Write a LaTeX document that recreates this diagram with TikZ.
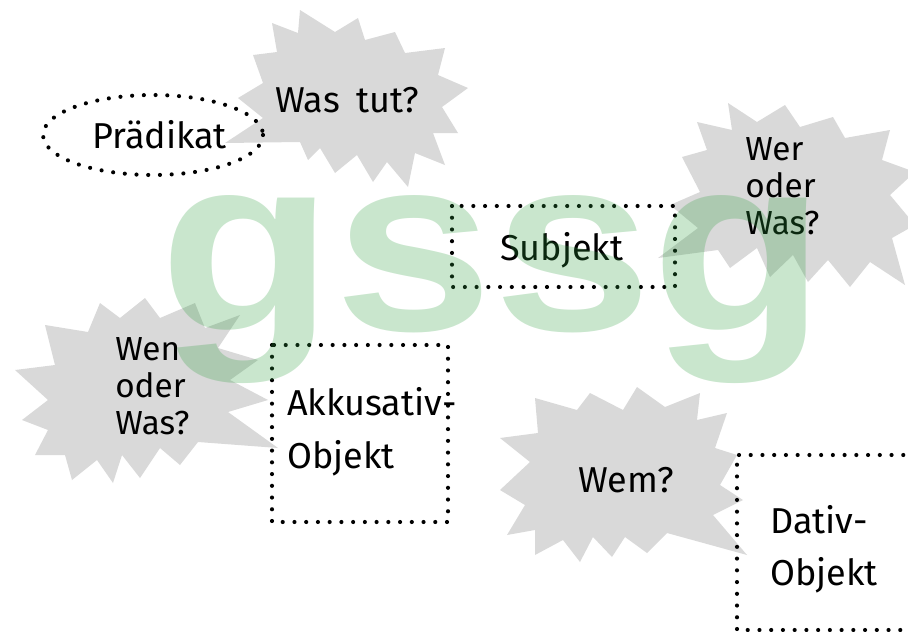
\documentclass[tikz,border=0pt]{standalone}
\usepackage{fontspec}
\usepackage{graphicx}
\setmainfont{Fira Sans}
\newfontfamily\wmfont{Liberation Sans Bold}
\definecolor{burstgray}{HTML}{D9D9D9}
\definecolor{wmgreen}{HTML}{2E9E3E}
\tikzset{
  burstshape/.style={fill=burstgray, draw=none},
  dotline/.style={draw=black, line width=3.1pt, line cap=round, dash pattern=on 0pt off 8.8pt},
  bubtext/.style={inner sep=0pt, anchor=base west, font=\fontsize{27}{30}\selectfont},
  multitext/.style={inner sep=0pt, align=left, anchor=north west, font=\fontsize{25}{28}\selectfont},
  boxtext/.style={inner sep=0pt, anchor=base west, font=\fontsize{27}{30}\selectfont},
  watermark/.style={inner sep=0pt, anchor=base, text=wmgreen, text opacity=0.26, font=\wmfont\fontsize{188}{188}\selectfont},
}
\begin{document}
\begin{tikzpicture}[x=0.75pt,y=-0.75pt]
\useasboundingbox (0,0) rectangle (908,632);

% starburst: Was tut?
\path[burstshape] (225,143) -- (263,118) -- (238,98) -- (263,83) -- (253,55) -- (277,52) -- (272,23) -- (298,33) -- (300,10) -- (335,32) -- (358,18) -- (365,40) -- (395,32) -- (405,53) -- (445,48) -- (438,75) -- (468,88) -- (442,107) -- (458,133) -- (433,133) -- (445,165) -- (415,153) -- (408,187) -- (387,162) -- (373,182) -- (357,155) -- (335,173) -- (320,148) -- (308,160) -- (300,142) -- cycle;

% starburst: Wer oder Was?
\path[burstshape] (697,122) -- (732,130) -- (728,103) -- (757,122) -- (785,105) -- (800,127) -- (833,117) -- (845,138) -- (890,130) -- (882,160) -- (915,172) -- (890,195) -- (915,225) -- (892,238) -- (905,285) -- (870,262) -- (850,287) -- (828,260) -- (808,282) -- (793,255) -- (770,277) -- (757,248) -- (730,268) -- (718,250) -- (658,258) -- (698,228) -- (670,205) -- (700,192) -- (682,157) -- (707,150) -- cycle;

% starburst: Wen oder Was?
\path[burstshape] (15,370) -- (55,365) -- (45,325) -- (88,332) -- (100,303) -- (120,318) -- (145,298) -- (160,318) -- (195,303) -- (205,328) -- (240,315) -- (218,348) -- (258,360) -- (230,380) -- (268,400) -- (228,412) -- (278,448) -- (198,442) -- (180,465) -- (160,448) -- (140,478) -- (122,455) -- (113,483) -- (97,460) -- (72,480) -- (65,455) -- (35,455) -- (48,430) -- (22,420) -- (48,400) -- cycle;

% starburst: Wem?
\path[burstshape] (500,438) -- (530,462) -- (500,490) -- (525,505) -- (507,535) -- (535,530) -- (535,555) -- (563,540) -- (580,562) -- (593,537) -- (612,557) -- (625,537) -- (647,553) -- (667,533) -- (747,555) -- (713,515) -- (743,500) -- (720,485) -- (737,455) -- (715,448) -- (727,413) -- (697,420) -- (700,393) -- (665,407) -- (637,387) -- (623,410) -- (590,393) -- (577,410) -- (535,398) -- (538,433) -- cycle;

% dotted frames
\draw[dotline] (153,135) ellipse [x radius=110, y radius=40];
\draw[dotline] (452,206) rectangle (675,287);
\draw[dotline] (272,345) rectangle (448,522);
\draw[dotline] (915,455) -- (737,455) -- (737,630) -- (915,630);

% texts
\node[bubtext] (wastut) at (275,112) {Was\hspace{0.45em}tut?};
\node[boxtext] (praedikat) at (92,148) {Prädikat};
\node[boxtext] (subjekt) at (500,260) {Subjekt};
\node[multitext] (werwas) at (745,137) {Wer\\oder\\Was?};
\node[multitext] (wenwas) at (115,337) {Wen\\oder\\Was?};
\node[bubtext] (wem) at (578,492) {Wem?};
\node[boxtext] (akk) at (287,415) {Akkusativ-};
\node[boxtext] (akkobj) at (287,468) {Objekt};
\node[boxtext] (dat) at (770,533) {Dativ-};
\node[boxtext] (datobj) at (770,585) {Objekt};

% watermark
\node[watermark] (wm) at (493,330) {\scalebox{1.14}[1]{gssg}};
\end{tikzpicture}
\end{document}
